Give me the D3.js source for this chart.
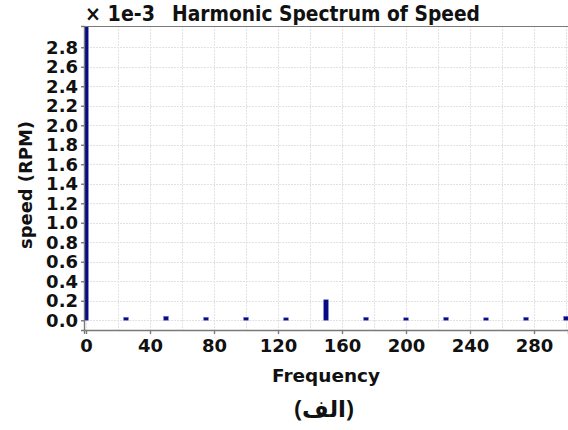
<!DOCTYPE html>
<html>
<head>
<meta charset="utf-8">
<script src="https://cdn.jsdelivr.net/npm/d3@7"></script>
<style>
  html, body { margin: 0; padding: 0; background: #fff; }
  svg { display: block; }
  text { font-family: "DejaVu Sans", Verdana, sans-serif; font-weight: bold; fill: #111; }
</style>
</head>
<body>
<svg id="chart" width="568" height="430"></svg>
<script>
// ---- data ----
const frequencies = [0, 25, 50, 75, 100, 125, 150, 175, 200, 225, 250, 275, 300];
const amplitudes  = [3.1, 0.02, 0.03, 0.02, 0.02, 0.015, 0.2, 0.02, 0.015, 0.02, 0.015, 0.02, 0.03];
const xTicks = [0, 40, 80, 120, 160, 200, 240, 280];
const yTicks = [0.0, 0.2, 0.4, 0.6, 0.8, 1.0, 1.2, 1.4, 1.6, 1.8, 2.0, 2.2, 2.4, 2.6, 2.8];
const xGrid = [0, 20, 40, 60, 80, 100, 120, 140, 160, 180, 200, 220, 240, 260, 280, 300];
const titleText = "Harmonic Spectrum of Speed";
const scaleText = "× 1e-3";
const xLabel = "Frequency";
const yLabel = "speed (RPM)";
const caption = "(الف)";

// ---- layout ----
const svg = d3.select("#chart");
const pL = 84, pR = 568, pT = 26, pB = 330;

const x = d3.scaleLinear().domain([-1.25, 301.25]).range([pL, pR]);
const y = d3.scaleLinear().domain([-0.1, 3.018]).range([pB, pT]);

// clip
svg.append("defs").append("clipPath").attr("id", "plotclip")
  .append("rect").attr("x", pL).attr("y", pT).attr("width", pR - pL).attr("height", pB - pT);

// grid
const grid = svg.append("g");
grid.selectAll("line.v").data(xGrid).join("line").attr("class", "v")
  .attr("x1", d => Math.round(x(d)) + 0.5).attr("x2", d => Math.round(x(d)) + 0.5)
  .attr("y1", pT).attr("y2", pB)
  .attr("stroke", "#e2e2e2").attr("stroke-width", 1).attr("stroke-dasharray", "2,1");
grid.selectAll("line.h").data(yTicks).join("line").attr("class", "h")
  .attr("x1", pL).attr("x2", pR)
  .attr("y1", d => Math.round(y(d)) + 0.5).attr("y2", d => Math.round(y(d)) + 0.5)
  .attr("stroke", "#e2e2e2").attr("stroke-width", 1).attr("stroke-dasharray", "2,1");

// bars
const bw = 4.6;
svg.append("g").attr("clip-path", "url(#plotclip)")
  .selectAll("rect").data(frequencies).join("rect")
  .attr("x", (d) => x(d) - bw / 2)
  .attr("width", bw)
  .attr("y", (d, i) => y(amplitudes[i]) - 1)
  .attr("height", (d, i) => Math.max(2.5, y(0) - y(amplitudes[i]) + 1))
  .attr("fill", "#0a0a86")
  .attr("stroke", "#6f73c4").attr("stroke-width", 0.6);

// frame line
svg.append("line").attr("x1", pL).attr("x2", pR).attr("y1", pT + 0.5).attr("y2", pT + 0.5)
  .attr("stroke", "#7a7a7a").attr("stroke-width", 1.2);

// x axis
const xAxis = d3.axisBottom(x).tickValues(xTicks).tickFormat(d3.format("d")).tickSize(4).tickPadding(5);
const gx = svg.append("g").attr("transform", `translate(0,${pB})`).call(xAxis);
gx.select(".domain").attr("stroke", "#7a7a7a").attr("stroke-width", 1.4);
gx.selectAll(".tick line").attr("stroke", "#7a7a7a").attr("stroke-width", 1.4);
gx.selectAll(".tick text").style("font-size", "18px").style("font-family", "DejaVu Sans").style("font-weight", "bold").attr("fill", "#111");

// y axis
const yAxis = d3.axisLeft(y).tickValues(yTicks).tickFormat(d3.format(".1f")).tickSize(3).tickPadding(3);
const gy = svg.append("g").attr("transform", `translate(${pL},0)`).call(yAxis);
gy.select(".domain").attr("stroke", "#7a7a7a").attr("stroke-width", 1.4);
gy.selectAll(".tick line").attr("stroke", "#7a7a7a").attr("stroke-width", 1.4);
gy.selectAll(".tick text").style("font-size", "18px").style("font-family", "DejaVu Sans").style("font-weight", "bold").attr("fill", "#111");

// titles
svg.append("text").attr("x", 85).attr("y", 21).style("font-size", "20.5px")
  .attr("textLength", 70).attr("lengthAdjust", "spacingAndGlyphs").text(scaleText);
svg.append("text").attr("x", 172).attr("y", 21).style("font-size", "20.5px")
  .attr("textLength", 308).attr("lengthAdjust", "spacingAndGlyphs").text(titleText);

svg.append("text").attr("x", 326).attr("y", 382).attr("text-anchor", "middle").style("font-size", "18.5px")
  .attr("textLength", 108).attr("lengthAdjust", "spacingAndGlyphs").text(xLabel);

svg.append("text").attr("transform", "translate(32,185) rotate(-90)").attr("text-anchor", "middle").style("font-size", "18.5px")
  .attr("textLength", 128).attr("lengthAdjust", "spacingAndGlyphs").text(yLabel);

svg.append("text").attr("x", 324).attr("y", 417).attr("text-anchor", "middle")
  .style("font-size", "23px").style("font-family", "'Noto Sans', 'DejaVu Sans', sans-serif")
  .style("font-weight", "bold").text(caption);
</script>
</body>
</html>
